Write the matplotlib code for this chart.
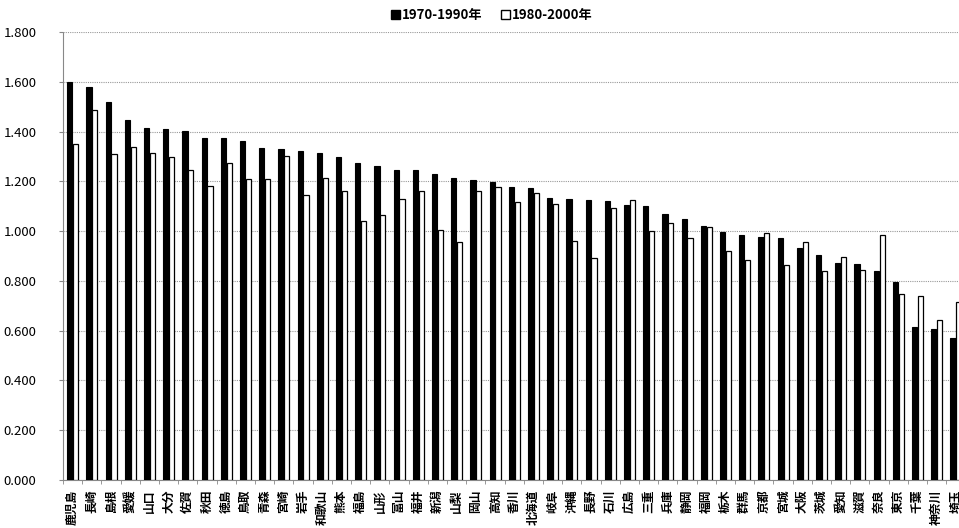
import matplotlib
matplotlib.use("Agg")
import matplotlib.pyplot as plt
from matplotlib.patches import Patch
import numpy as np

plt.rcParams['font.family'] = ['Noto Sans CJK JP', 'DejaVu Sans']

# 都道府県と期間別の値
prefs = ['鹿児島', '長崎', '島根', '愛媛', '山口', '大分', '佐賀', '秋田', '徳島', '鳥取',
         '青森', '宮崎', '岩手', '和歌山', '熊本', '福島', '山形', '富山', '福井', '新潟',
         '山梨', '岡山', '高知', '香川', '北海道', '岐阜', '沖縄', '長野', '石川', '広島',
         '三重', '兵庫', '静岡', '福岡', '栃木', '群馬', '京都', '宮城', '大阪', '茨城',
         '愛知', '滋賀', '奈良', '東京', '千葉', '神奈川', '埼玉']

v1970_1990 = [1.600, 1.578, 1.518, 1.446, 1.416, 1.410, 1.402, 1.376, 1.376, 1.362,
              1.332, 1.328, 1.320, 1.312, 1.298, 1.272, 1.262, 1.244, 1.244, 1.228,
              1.214, 1.204, 1.198, 1.178, 1.172, 1.134, 1.130, 1.124, 1.120, 1.106,
              1.100, 1.068, 1.048, 1.022, 0.995, 0.985, 0.978, 0.972, 0.932, 0.904,
              0.870, 0.868, 0.838, 0.794, 0.614, 0.608, 0.570]

v1980_2000 = [1.348, 1.488, 1.308, 1.338, 1.314, 1.298, 1.244, 1.180, 1.274, 1.210,
              1.210, 1.302, 1.144, 1.212, 1.160, 1.040, 1.064, 1.130, 1.162, 1.006,
              0.958, 1.162, 1.178, 1.116, 1.152, 1.108, 0.960, 0.892, 1.092, 1.124,
              1.000, 1.034, 0.972, 1.016, 0.920, 0.884, 0.994, 0.864, 0.958, 0.838,
              0.896, 0.844, 0.984, 0.748, 0.738, 0.644, 0.716]

fig = plt.figure(figsize=(9.59, 5.28), dpi=100)
ax = fig.add_axes([0.0657, 0.0909, 0.941, 0.8485])

x = np.arange(len(prefs))
w = 0.27
ax.bar(x - 0.15, v1970_1990, width=w, color='black', edgecolor='black', linewidth=0.8, zorder=3)
ax.bar(x + 0.16, v1980_2000, width=w, color='white', edgecolor='black', linewidth=0.9, zorder=3)

ax.set_xlim(-0.5, len(prefs) - 0.5)
ax.set_ylim(0, 1.8)
ax.set_yticks(np.arange(0, 1.81, 0.2))
ax.set_yticklabels([f'{t:.3f}' for t in np.arange(0, 1.81, 0.2)], fontsize=9.5)
ax.grid(axis='y', color='#999999', linestyle=(0, (1, 1)), linewidth=0.8, zorder=0)

for s in ['top', 'right']:
    ax.spines[s].set_visible(False)
ax.spines['left'].set_color('#888888')
ax.spines['left'].set_linestyle((0, (1, 1)))
ax.spines['bottom'].set_color('#888888')
ax.tick_params(axis='y', length=3, color='#888888', pad=16)

# 県名ラベル（90度回転）
ax.set_xticks(x)
ax.set_xticklabels(prefs, fontsize=8.5, fontweight='bold', rotation=90,
                   ha='center', va='top')
ax.tick_params(axis='x', length=0, pad=7)
ax.set_xticks(np.arange(-0.5, len(prefs), 1), minor=True)
ax.tick_params(axis='x', which='minor', length=3, color='#888888')

handles = [Patch(facecolor='black', edgecolor='black', label='1970-1990年'),
           Patch(facecolor='white', edgecolor='black', label='1980-2000年')]
fig.legend(handles=handles, loc='center', bbox_to_anchor=(0.513, 0.972), ncol=2,
           frameon=False, prop={'weight': 'bold', 'size': 9.5},
           handlelength=0.7, handleheight=0.7, handletextpad=0.15, columnspacing=1.4)

fig.savefig('out.png', dpi=100)
